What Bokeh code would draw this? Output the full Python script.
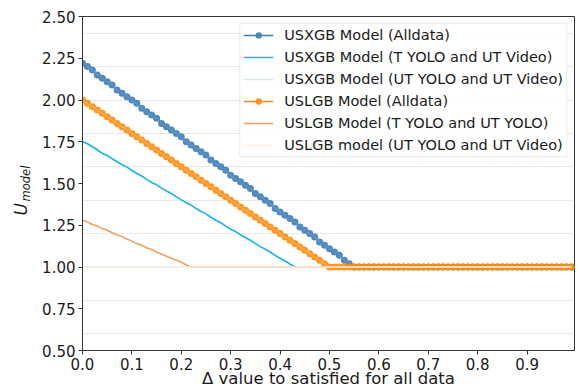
from bokeh.plotting import figure
from bokeh.models import (Range1d, FixedTicker, NumeralTickFormatter, Legend, LegendItem, Title)
from bokeh.embed import file_html
from bokeh.resources import INLINE

# ---------------- data ----------------
delta = [
    0.00, 0.01, 0.02, 0.03, 0.04, 0.05, 0.06, 0.07, 0.08, 0.09,
    0.10, 0.11, 0.12, 0.13, 0.14, 0.15, 0.16, 0.17, 0.18, 0.19,
    0.20, 0.21, 0.22, 0.23, 0.24, 0.25, 0.26, 0.27, 0.28, 0.29,
    0.30, 0.31, 0.32, 0.33, 0.34, 0.35, 0.36, 0.37, 0.38, 0.39,
    0.40, 0.41, 0.42, 0.43, 0.44, 0.45, 0.46, 0.47, 0.48, 0.49,
    0.50, 0.51, 0.52, 0.53, 0.54, 0.55, 0.56, 0.57, 0.58, 0.59,
    0.60, 0.61, 0.62, 0.63, 0.64, 0.65, 0.66, 0.67, 0.68, 0.69,
    0.70, 0.71, 0.72, 0.73, 0.74, 0.75, 0.76, 0.77, 0.78, 0.79,
    0.80, 0.81, 0.82, 0.83, 0.84, 0.85, 0.86, 0.87, 0.88, 0.89,
    0.90, 0.91, 0.92, 0.93, 0.94, 0.95, 0.96, 0.97, 0.98, 0.99,
]

usxgb_alldata = [
    2.22, 2.20, 2.18, 2.15, 2.13, 2.11, 2.09, 2.06, 2.04, 2.02,
    2.00, 1.98, 1.95, 1.93, 1.91, 1.89, 1.86, 1.84, 1.82, 1.80,
    1.78, 1.75, 1.73, 1.71, 1.69, 1.67, 1.64, 1.62, 1.60, 1.58,
    1.55, 1.53, 1.51, 1.49, 1.47, 1.44, 1.42, 1.40, 1.38, 1.35,
    1.33, 1.31, 1.29, 1.27, 1.24, 1.22, 1.20, 1.18, 1.15, 1.13,
    1.11, 1.09, 1.07, 1.04, 1.02, 1.00, 1.00, 1.00, 1.00, 1.00,
    1.00, 1.00, 1.00, 1.00, 1.00, 1.00, 1.00, 1.00, 1.00, 1.00,
    1.00, 1.00, 1.00, 1.00, 1.00, 1.00, 1.00, 1.00, 1.00, 1.00,
    1.00, 1.00, 1.00, 1.00, 1.00, 1.00, 1.00, 1.00, 1.00, 1.00,
    1.00, 1.00, 1.00, 1.00, 1.00, 1.00, 1.00, 1.00, 1.00, 1.00,
]

usxgb_t_yolo_ut_video = [
    1.750, 1.738, 1.720, 1.702, 1.680, 1.668, 1.648, 1.630, 1.612, 1.598,
    1.578, 1.560, 1.545, 1.525, 1.506, 1.492, 1.472, 1.455, 1.440, 1.420,
    1.402, 1.385, 1.370, 1.350, 1.332, 1.318, 1.298, 1.280, 1.265, 1.245,
    1.226, 1.212, 1.192, 1.175, 1.160, 1.140, 1.122, 1.106, 1.090, 1.070,
    1.052, 1.036, 1.018, 1.000, 1.000, 1.000, 1.000, 1.000, 1.000, 1.000,
    1.000, 1.000, 1.000, 1.000, 1.000, 1.000, 1.000, 1.000, 1.000, 1.000,
    1.000, 1.000, 1.000, 1.000, 1.000, 1.000, 1.000, 1.000, 1.000, 1.000,
    1.000, 1.000, 1.000, 1.000, 1.000, 1.000, 1.000, 1.000, 1.000, 1.000,
    1.000, 1.000, 1.000, 1.000, 1.000, 1.000, 1.000, 1.000, 1.000, 1.000,
    1.000, 1.000, 1.000, 1.000, 1.000, 1.000, 1.000, 1.000, 1.000, 1.000,
]

usxgb_ut_yolo_ut_video = [
    1.00, 1.00, 1.00, 1.00, 1.00, 1.00, 1.00, 1.00, 1.00, 1.00,
    1.00, 1.00, 1.00, 1.00, 1.00, 1.00, 1.00, 1.00, 1.00, 1.00,
    1.00, 1.00, 1.00, 1.00, 1.00, 1.00, 1.00, 1.00, 1.00, 1.00,
    1.00, 1.00, 1.00, 1.00, 1.00, 1.00, 1.00, 1.00, 1.00, 1.00,
    1.00, 1.00, 1.00, 1.00, 1.00, 1.00, 1.00, 1.00, 1.00, 1.00,
    1.00, 1.00, 1.00, 1.00, 1.00, 1.00, 1.00, 1.00, 1.00, 1.00,
    1.00, 1.00, 1.00, 1.00, 1.00, 1.00, 1.00, 1.00, 1.00, 1.00,
    1.00, 1.00, 1.00, 1.00, 1.00, 1.00, 1.00, 1.00, 1.00, 1.00,
    1.00, 1.00, 1.00, 1.00, 1.00, 1.00, 1.00, 1.00, 1.00, 1.00,
    1.00, 1.00, 1.00, 1.00, 1.00, 1.00, 1.00, 1.00, 1.00, 1.00,
]

uslgb_alldata = [
    2.00, 1.98, 1.96, 1.94, 1.92, 1.90, 1.88, 1.86, 1.84, 1.82,
    1.80, 1.78, 1.76, 1.74, 1.72, 1.70, 1.68, 1.66, 1.64, 1.62,
    1.60, 1.58, 1.56, 1.54, 1.52, 1.50, 1.48, 1.46, 1.44, 1.42,
    1.40, 1.38, 1.36, 1.34, 1.32, 1.30, 1.28, 1.26, 1.24, 1.22,
    1.20, 1.18, 1.16, 1.14, 1.12, 1.10, 1.08, 1.06, 1.04, 1.02,
    1.00, 1.00, 1.00, 1.00, 1.00, 1.00, 1.00, 1.00, 1.00, 1.00,
    1.00, 1.00, 1.00, 1.00, 1.00, 1.00, 1.00, 1.00, 1.00, 1.00,
    1.00, 1.00, 1.00, 1.00, 1.00, 1.00, 1.00, 1.00, 1.00, 1.00,
    1.00, 1.00, 1.00, 1.00, 1.00, 1.00, 1.00, 1.00, 1.00, 1.00,
    1.00, 1.00, 1.00, 1.00, 1.00, 1.00, 1.00, 1.00, 1.00, 1.00,
]

uslgb_t_yolo_ut_yolo = [
    1.280, 1.270, 1.255, 1.245, 1.230, 1.220, 1.205, 1.192, 1.182, 1.168,
    1.155, 1.140, 1.130, 1.115, 1.105, 1.090, 1.078, 1.065, 1.052, 1.040,
    1.028, 1.012, 1.000, 1.000, 1.000, 1.000, 1.000, 1.000, 1.000, 1.000,
    1.000, 1.000, 1.000, 1.000, 1.000, 1.000, 1.000, 1.000, 1.000, 1.000,
    1.000, 1.000, 1.000, 1.000, 1.000, 1.000, 1.000, 1.000, 1.000, 1.000,
    1.000, 1.000, 1.000, 1.000, 1.000, 1.000, 1.000, 1.000, 1.000, 1.000,
    1.000, 1.000, 1.000, 1.000, 1.000, 1.000, 1.000, 1.000, 1.000, 1.000,
    1.000, 1.000, 1.000, 1.000, 1.000, 1.000, 1.000, 1.000, 1.000, 1.000,
    1.000, 1.000, 1.000, 1.000, 1.000, 1.000, 1.000, 1.000, 1.000, 1.000,
    1.000, 1.000, 1.000, 1.000, 1.000, 1.000, 1.000, 1.000, 1.000, 1.000,
]

uslgb_ut_yolo_ut_video = [
    1.00, 1.00, 1.00, 1.00, 1.00, 1.00, 1.00, 1.00, 1.00, 1.00,
    1.00, 1.00, 1.00, 1.00, 1.00, 1.00, 1.00, 1.00, 1.00, 1.00,
    1.00, 1.00, 1.00, 1.00, 1.00, 1.00, 1.00, 1.00, 1.00, 1.00,
    1.00, 1.00, 1.00, 1.00, 1.00, 1.00, 1.00, 1.00, 1.00, 1.00,
    1.00, 1.00, 1.00, 1.00, 1.00, 1.00, 1.00, 1.00, 1.00, 1.00,
    1.00, 1.00, 1.00, 1.00, 1.00, 1.00, 1.00, 1.00, 1.00, 1.00,
    1.00, 1.00, 1.00, 1.00, 1.00, 1.00, 1.00, 1.00, 1.00, 1.00,
    1.00, 1.00, 1.00, 1.00, 1.00, 1.00, 1.00, 1.00, 1.00, 1.00,
    1.00, 1.00, 1.00, 1.00, 1.00, 1.00, 1.00, 1.00, 1.00, 1.00,
    1.00, 1.00, 1.00, 1.00, 1.00, 1.00, 1.00, 1.00, 1.00, 1.00,
]

labels = [
    "USXGB Model (Alldata)",
    "USXGB Model (T YOLO and UT Video)",
    "USXGB Model (UT YOLO and UT Video)",
    "USLGB Model (Alldata)",
    "USLGB Model (T YOLO and UT YOLO)",
    "USLGB model (UT YOLO and UT Video)",
]
x_ticks = [0.0, 0.1, 0.2, 0.3, 0.4, 0.5, 0.6, 0.7, 0.8, 0.9]
y_ticks = [0.50, 0.75, 1.00, 1.25, 1.50, 1.75, 2.00, 2.25, 2.50]
y_grid = [0.6, 0.8, 1.0, 1.2, 1.4, 1.6, 1.8, 2.0, 2.2, 2.4]

# ---------------- figure ----------------
FONT = "DejaVu Sans"
p = figure(width=579, height=390, output_backend="svg", toolbar_location=None,
           x_range=Range1d(0, 0.996), y_range=Range1d(0.5, 2.5),
           min_border_left=82, min_border_right=5, min_border_top=16, min_border_bottom=40)
p.background_fill_color = "white"
p.border_fill_color = "white"
p.outline_line_color = "#333333"
p.outline_line_width = 1

p.xgrid.visible = False
p.ygrid.ticker = FixedTicker(ticks=y_grid)
p.ygrid.grid_line_color = "#e8e8e8"
p.ygrid.grid_line_width = 1

for ax in (p.xaxis[0], p.yaxis[0]):
    ax.axis_line_color = "#333333"
    ax.major_tick_line_color = "#333333"
    ax.major_tick_out = 4
    ax.major_tick_in = 0
    ax.minor_tick_line_color = None
    ax.major_label_text_font = FONT
    ax.major_label_text_font_size = "15px"
    ax.major_label_text_color = "#1a1a1a"
    ax.axis_label_text_font = FONT
    ax.axis_label_text_color = "#1a1a1a"

p.xaxis.ticker = FixedTicker(ticks=x_ticks)
p.xaxis.formatter = NumeralTickFormatter(format="0.0")
p.xaxis.major_label_standoff = 3
p.xaxis.axis_label = "\u0394 value to satisfied for all data"
p.xaxis.axis_label_text_font_size = "16.5px"
p.xaxis.axis_label_text_font_style = "normal"
p.xaxis.axis_label_standoff = -4

# y label: subscript part as the axis label, "U" as a title further out
p.yaxis.ticker = FixedTicker(ticks=y_ticks)
p.yaxis.formatter = NumeralTickFormatter(format="0.00")
p.yaxis.major_label_standoff = 3
p.yaxis.axis_label = "model"
p.yaxis.axis_label_text_font_size = "11.5px"
p.yaxis.axis_label_text_font_style = "italic"
p.yaxis.axis_label_standoff = 6

u_title = Title(text="U", align="left", offset=135, standoff=-29,
                text_font=FONT, text_font_style="italic", text_font_size="17px",
                text_color="#1a1a1a")
p.add_layout(u_title, "left")

# ---------------- series ----------------
c_blue = "#3f7db5"
c_blue_c = "#5f97cb"
c_sky = "#14b4f0"
c_sky_l = "#d4eaf8"
c_orng = "#ff8c0a"
c_orng_c = "#ffb062"
c_sand = "#f2a062"
c_sand_l = "#fdeedd"

r1l = p.line(delta, usxgb_alldata, line_color=c_blue, line_width=1.5)
r1m = p.scatter(delta, usxgb_alldata, size=7, fill_color=c_blue, line_color=None, fill_alpha=0.9)
p.line(delta, usxgb_alldata, line_color=c_blue_c, line_width=1.3)
r2 = p.line(delta, usxgb_t_yolo_ut_video, line_color=c_sky, line_width=1.6)
r3 = p.line(delta, usxgb_ut_yolo_ut_video, line_color=c_sky_l, line_width=1.6)
r4l = p.line(delta, uslgb_alldata, line_color=c_orng, line_width=1.5)
r4m = p.scatter(delta, uslgb_alldata, size=7, fill_color=c_orng, line_color=None, fill_alpha=0.9)
p.line(delta, uslgb_alldata, line_color=c_orng_c, line_width=1.3)
r5 = p.line(delta, uslgb_t_yolo_ut_yolo, line_color=c_sand, line_width=1.6)
r6 = p.line(delta, uslgb_ut_yolo_ut_video, line_color=c_sand_l, line_width=1.6)

legend = Legend(items=[
    LegendItem(label=labels[0], renderers=[r1l, r1m]),
    LegendItem(label=labels[1], renderers=[r2]),
    LegendItem(label=labels[2], renderers=[r3]),
    LegendItem(label=labels[3], renderers=[r4l, r4m]),
    LegendItem(label=labels[4], renderers=[r5]),
    LegendItem(label=labels[5], renderers=[r6]),
], location="top_right")
legend.label_text_font = FONT
legend.label_text_font_size = "14.5px"
legend.label_text_color = "#1a1a1a"
legend.label_height = 16
legend.glyph_height = 16
legend.glyph_width = 30
legend.label_standoff = 11
legend.spacing = 6
legend.padding = 3
legend.margin = 7
legend.border_line_color = "#d8d8d8"
legend.border_line_width = 1
legend.background_fill_color = "white"
legend.background_fill_alpha = 0.85
p.add_layout(legend)

open("out.html", "w").write(file_html(p, INLINE))
